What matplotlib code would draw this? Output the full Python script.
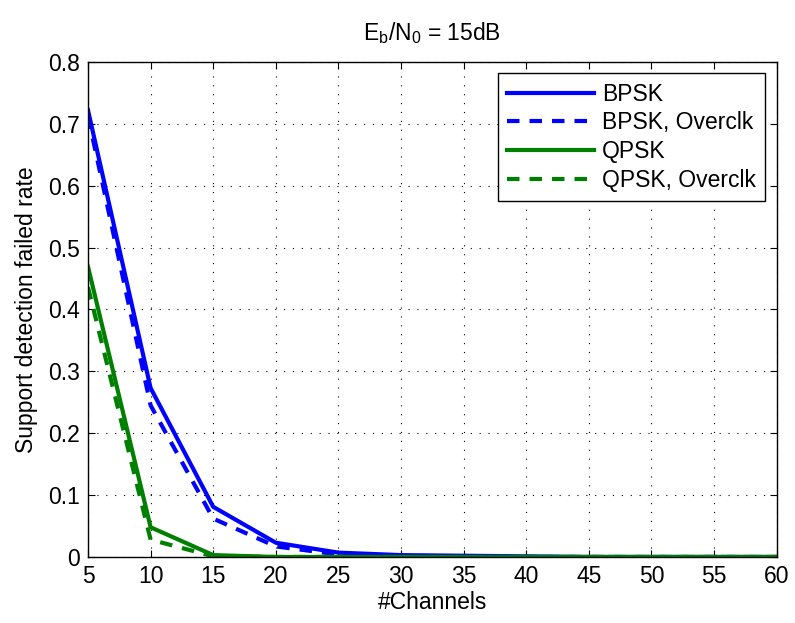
import matplotlib
matplotlib.use("Agg")
from matplotlib import pyplot as plt

plt.rcParams['font.family'] = ['Liberation Sans', 'DejaVu Sans']
plt.rcParams['mathtext.fontset'] = 'custom'
plt.rcParams['mathtext.rm'] = 'Liberation Sans'
plt.rcParams['mathtext.it'] = 'Liberation Sans'

channels = [5, 10, 15, 20, 25, 30, 35, 40, 45, 50, 55, 60]
bpsk = [0.722, 0.273, 0.081, 0.023, 0.007, 0.003, 0.002, 0.001, 0.0, 0.0, 0.0, 0.0]
bpsk_oc = [0.712, 0.245, 0.062, 0.017, 0.004, 0.001, 0.0, 0.0, 0.0, 0.0, 0.0, 0.0]
qpsk = [0.469, 0.048, 0.003, 0.0, 0.0, 0.0, 0.0, 0.0, 0.0, 0.0, 0.0, 0.0]
qpsk_oc = [0.436, 0.028, 0.001, 0.0, 0.0, 0.0, 0.0, 0.0, 0.0, 0.0, 0.0, 0.0]

fs = 16.5
fig = plt.figure(figsize=(7.95, 6.23), dpi=100)
ax = fig.add_axes([0.1107, 0.106, 0.8663, 0.7945])

blue = '#0000ff'
green = '#008000'
lw = 3.0
ax.plot(channels, bpsk, color=blue, lw=lw, label='BPSK')
ax.plot(channels, bpsk_oc, color=blue, lw=lw, ls=(0, (3, 2.4)), label='BPSK, Overclk')
ax.plot(channels, qpsk, color=green, lw=lw, label='QPSK')
ax.plot(channels, qpsk_oc, color=green, lw=lw, ls=(0, (3, 2.4)), label='QPSK, Overclk')

ax.set_xlim(5, 60)
ax.set_ylim(0, 0.8)
ax.set_xticks(range(5, 61, 5))
ax.set_yticks([0, 0.1, 0.2, 0.3, 0.4, 0.5, 0.6, 0.7, 0.8])
ax.set_yticklabels(['0', '0.1', '0.2', '0.3', '0.4', '0.5', '0.6', '0.7', '0.8'])
ax.tick_params(direction='in', top=True, right=True, labelsize=fs, length=5, width=0.8, pad=6)
ax.grid(True, color='black', ls=(0, (1, 7)), lw=0.8)
for s in ax.spines.values():
    s.set_linewidth(1.0)

ax.set_xlabel('#Channels', fontsize=fs, labelpad=2)
ax.set_ylabel('Support detection failed rate', fontsize=fs, labelpad=7)
ax.set_title(r'E$_\mathrm{b}$/N$_\mathrm{0}$ = 15dB', fontsize=fs, pad=16)

leg = ax.legend(loc='upper right', fontsize=fs, fancybox=False, edgecolor='black',
                framealpha=1, handlelength=3.8, borderaxespad=0.5, labelspacing=0.25,
                handletextpad=0.35, borderpad=0.4)
leg.get_frame().set_linewidth(1.0)

fig.savefig('out.png', dpi=100)
